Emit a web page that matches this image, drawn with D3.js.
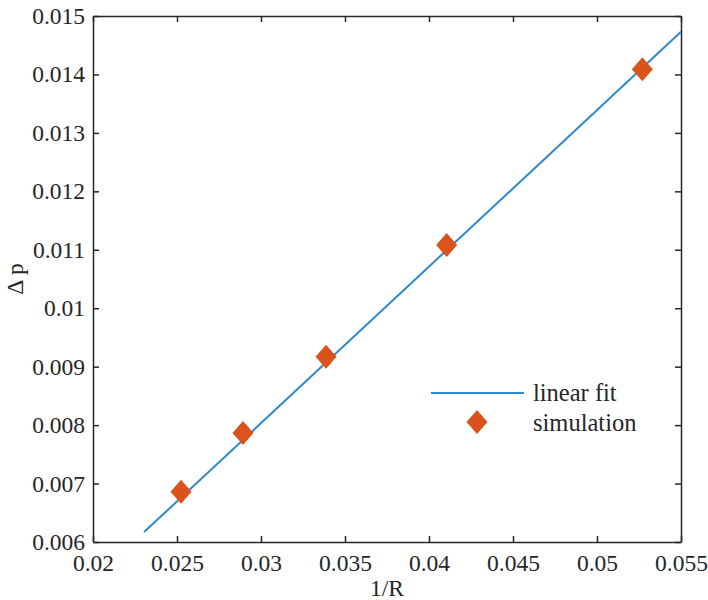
<!DOCTYPE html>
<html>
<head>
<meta charset="utf-8">
<script src="https://cdn.jsdelivr.net/npm/d3@7"></script>
<style>
  body { margin: 0; background: #fff; }
  text { font-family: "Liberation Serif", "Times New Roman", serif; fill: #262626; }
</style>
</head>
<body>
<figure id="chart" style="margin:0"></figure>
<script>
// simulated points
const invR = [0.02524, 0.02893, 0.03387, 0.04105, 0.0527];
const deltaP = [0.00686, 0.007865, 0.00917, 0.01108, 0.01409];

// linear fit endpoints (x range of the fitted line)
const fitX = [0.02304, 0.055];
const fitSlope = 0.2678;
const fitIntercept = 0.0;

const xTicks = [0.02, 0.025, 0.03, 0.035, 0.04, 0.045, 0.05, 0.055];
const yTicks = [0.006, 0.007, 0.008, 0.009, 0.01, 0.011, 0.012, 0.013, 0.014, 0.015];

const width = 708, height = 600;
const margin = { top: 16, right: 27, bottom: 58, left: 93 };
const w = width - margin.left - margin.right;
const h = height - margin.top - margin.bottom;

const svg = d3.select("#chart").append("svg")
  .attr("width", width)
  .attr("height", height);

const g = svg.append("g")
  .attr("transform", "translate(" + margin.left + "," + margin.top + ")");

const x = d3.scaleLinear().domain([0.02, 0.055]).range([0, w]);
const y = d3.scaleLinear().domain([0.006, 0.015]).range([h, 0]);

const fmt = d => String(+d.toFixed(4));
const axisColor = "#262626";

// bottom / left axes with inward ticks
const xAxis = g.append("g")
  .attr("transform", "translate(0," + h + ")")
  .call(d3.axisBottom(x).tickValues(xTicks).tickFormat(fmt).tickSizeInner(-6).tickSizeOuter(0).tickPadding(12));
const yAxis = g.append("g")
  .call(d3.axisLeft(y).tickValues(yTicks).tickFormat(fmt).tickSizeInner(-6).tickSizeOuter(0).tickPadding(8));

// top / right mirror ticks
const xTop = g.append("g")
  .call(d3.axisTop(x).tickValues(xTicks).tickFormat("").tickSizeInner(-6).tickSizeOuter(0));
const yRight = g.append("g")
  .attr("transform", "translate(" + w + ",0)")
  .call(d3.axisRight(y).tickValues(yTicks).tickFormat("").tickSizeInner(-6).tickSizeOuter(0));

[xAxis, yAxis, xTop, yRight].forEach(a => {
  a.selectAll("path, line").attr("stroke", axisColor).attr("stroke-width", 1.5);
  a.selectAll("text").style("font-size", "23.5px").attr("fill", axisColor);
});
xAxis.selectAll("text").attr("dy", "0.71em");

// linear fit line
const line = d3.line().x(d => x(d)).y(d => y(fitSlope * d + fitIntercept));
g.append("path")
  .datum(fitX)
  .attr("d", line)
  .attr("fill", "none")
  .attr("stroke", "#2f88cc")
  .attr("stroke-width", 2);

// diamond markers
const diamond = "M0,-12L10.5,0L0,12L-10.5,0Z";
g.selectAll(".pt")
  .data(invR.map((v, i) => [v, deltaP[i]]))
  .enter()
  .append("path")
  .attr("class", "pt")
  .attr("d", diamond)
  .attr("transform", d => "translate(" + x(d[0]) + "," + y(d[1]) + ")")
  .attr("fill", "#d9531a");

// axis labels
svg.append("text")
  .attr("x", margin.left + w / 2)
  .attr("y", 596)
  .attr("text-anchor", "middle")
  .style("font-size", "23.5px")
  .text("1/R");

svg.append("text")
  .attr("transform", "translate(23," + (margin.top + h / 2) + ") rotate(-90)")
  .attr("text-anchor", "middle")
  .style("font-size", "23.5px")
  .text("Δ p");

// legend
const legend = svg.append("g");
legend.append("line")
  .attr("x1", 431).attr("x2", 524)
  .attr("y1", 393).attr("y2", 393)
  .attr("stroke", "#2f88cc").attr("stroke-width", 2);
legend.append("text")
  .attr("x", 533).attr("y", 401)
  .style("font-size", "24.5px")
  .text("linear fit");
legend.append("path")
  .attr("d", diamond)
  .attr("transform", "translate(477,422)")
  .attr("fill", "#d9531a");
legend.append("text")
  .attr("x", 533).attr("y", 431)
  .style("font-size", "24.5px")
  .text("simulation");
</script>
</body>
</html>
